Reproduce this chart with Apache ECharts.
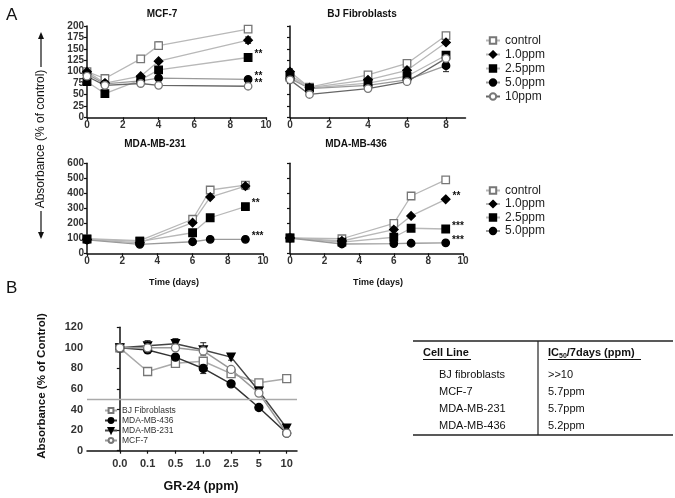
<!DOCTYPE html>
<html><head><meta charset="utf-8">
<script src="https://cdn.jsdelivr.net/npm/echarts@6/dist/echarts.min.js"></script>
<style>html,body{margin:0;padding:0;background:#fff}#c{width:675px;height:498px}</style>
</head><body><div id="c"></div>
<script>
// ---------- DATA ----------
const seriesNames = ['control', '1.0ppm', '2.5ppm', '5.0ppm', '10ppm'];
const panelTitles = ['MCF-7', 'BJ Fibroblasts', 'MDA-MB-231', 'MDA-MB-436'];

const mcfDays = [0, 1, 3, 4, 9];
const mcfControl = [100, 85, 128, 157, 193];
const mcf1 = [100, 75, 90, 123, 169];
const mcf25 = [78, 52, 82, 104, 131];
const mcf5 = [95, 73, 80, 86, 83];
const mcf10 = [90, 70, 74, 70, 68];
const mcfSig = ['', '', '**', '**', '**'];
const mcfErr = [[4, 149, 165], [9, 162, 176], [9, 188, 198]];

const bjDays = [0, 1, 4, 6, 8];
const bjControl = [92, 66, 93, 118, 179];
const bj1 = [100, 65, 82, 103, 164];
const bj25 = [88, 64, 75, 90, 136];
const bj5 = [85, 63, 70, 82, 113];
const bj10 = [82, 50, 63, 78, 129];
const bjErr = [[8, 100, 126], [0, 78, 106]];

const mdaDays = [0, 3, 6, 7, 9];
const m231Control = [97, 85, 227, 422, 455];
const m231_1 = [92, 70, 204, 375, 448];
const m231_25 = [95, 80, 137, 237, 311];
const m231_5 = [90, 60, 77, 93, 93];
const m231Sig = ['', '', '**', '***'];
const m231Err = [[9, 435, 475], [9, 425, 470], [7, 400, 440]];

const m436Control = [102, 97, 200, 382, 490];
const m436_1 = [102, 82, 158, 249, 360];
const m436_25 = [102, 75, 107, 167, 162];
const m436_5 = [102, 62, 65, 67, 70];
const m436Sig = ['', '**', '***', '***'];

const yTicksTop = [0, 200, 25];
const yTicksBottom = [0, 600, 100];

const doses = ['0.0', '0.1', '0.5', '1.0', '2.5', '5', '10'];
const bNames = ['BJ Fibroblasts', 'MDA-MB-436', 'MDA-MB-231', 'MCF-7'];
const bBJ = [100, 77, 85, 87, 75, 66, 70];
const b436 = [100, 98, 91, 80, 65, 42, 17];
const b231 = [100, 102, 104, 98, 91, 58, 22];
const bMCF = [100, 100, 100, 97, 79, 56, 17];
const bErr = [[0, 97, 104], [1, 95, 107], [2, 98, 109], [3, 93, 105], [3, 75, 85], [4, 88, 94], [0, 96, 103]];
const ic50Threshold = 50;

const cellLines = ['BJ fibroblasts', 'MCF-7', 'MDA-MB-231', 'MDA-MB-436'];
const ic50Values = ['>>10', '5.7ppm', '5.7ppm', '5.2ppm'];

// ---------- STYLE ----------
const FONT = '"Liberation Sans", Arial, sans-serif';
const sty = {
  'control': { symbol: 'rect', size: 7.5, fill: '#fff', border: '#777', line: '#b8b8b8' },
  '1.0ppm': { symbol: 'diamond', size: 8.5, fill: '#000', border: '#000', line: '#b8b8b8' },
  '2.5ppm': { symbol: 'rect', size: 7.5, fill: '#000', border: '#000', line: '#b8b8b8' },
  '5.0ppm': { symbol: 'circle', size: 7.5, fill: '#000', border: '#000', line: '#9a9a9a' },
  '10ppm': { symbol: 'circle', size: 7.5, fill: '#fff', border: '#777', line: '#666' }
};

function mkSeries(name, days, vals, idx, sig) {
  const s = sty[name];
  return {
    type: 'line', name: name, xAxisIndex: idx, yAxisIndex: idx,
    symbol: s.symbol, symbolSize: s.size, showSymbol: true,
    itemStyle: { color: s.fill, borderColor: s.border, borderWidth: 1.3, opacity: 1 },
    lineStyle: { color: s.line, width: 1.3 },
    animation: false, z: 3,
    data: days.map((d, i) => {
      const o = { value: [d, vals[i]] };
      if (i === days.length - 1 && sig) {
        o.label = { show: true, formatter: sig, position: 'right', distance: 2,
          fontSize: 10, fontWeight: 'bold', color: '#111', fontFamily: FONT, offset: [0, -3] };
      }
      return o;
    })
  };
}

function errRender(params, api) {
  const x = api.value(0), lo = api.value(1), hi = api.value(2);
  const p1 = api.coord([x, lo]), p2 = api.coord([x, hi]);
  const w = 3, st = { stroke: '#222', lineWidth: 1 };
  return { type: 'group', children: [
    { type: 'line', shape: { x1: p1[0], y1: p1[1], x2: p2[0], y2: p2[1] }, style: st },
    { type: 'line', shape: { x1: p1[0] - w, y1: p1[1], x2: p1[0] + w, y2: p1[1] }, style: st },
    { type: 'line', shape: { x1: p2[0] - w, y1: p2[1], x2: p2[0] + w, y2: p2[1] }, style: st }
  ] };
}
function errSeries(data, idx) {
  return { type: 'custom', xAxisIndex: idx, yAxisIndex: idx, renderItem: errRender,
    data: data, encode: { x: 0, y: [1, 2] }, z: 2, silent: true, animation: false };
}

const axisLine = { show: true, lineStyle: { color: '#111', width: 1.5 } };
const axisTick = { show: true, length: 3, lineStyle: { color: '#111', width: 1.2 } };
const lab = { fontSize: 10, fontWeight: 'bold', color: '#333', fontFamily: FONT, margin: 3 };

function xA(idx, max, showLab, custom) {
  const a = { type: 'value', gridIndex: idx, min: 0, max: max, interval: 2,
    axisLine: axisLine, axisTick: Object.assign({}, axisTick), splitLine: { show: false },
    axisLabel: Object.assign({ show: showLab }, lab) };
  if (custom) { a.axisLabel.customValues = custom; a.axisTick.customValues = custom; }
  return a;
}
function yA(idx, ticks, showLab) {
  return { type: 'value', gridIndex: idx, min: ticks[0], max: ticks[1], interval: ticks[2],
    axisLine: axisLine, axisTick: axisTick, splitLine: { show: false },
    axisLabel: Object.assign({ show: showLab }, lab) };
}

const series = [];
const allA = [
  [mcfDays, [mcfControl, mcf1, mcf25, mcf5, mcf10], mcfSig, 0],
  [bjDays, [bjControl, bj1, bj25, bj5, bj10], null, 1],
  [mdaDays, [m231Control, m231_1, m231_25, m231_5], m231Sig, 2],
  [mdaDays, [m436Control, m436_1, m436_25, m436_5], m436Sig, 3]
];
allA.forEach(([days, sets, sig, idx]) => {
  sets.forEach((vals, k) => series.push(mkSeries(seriesNames[k], days, vals, idx, sig ? sig[k] : '')));
});
series.push(errSeries(mcfErr, 0), errSeries(bjErr, 1), errSeries(m231Err, 2));

// Panel B
const bSty = [
  { symbol: 'rect', size: 8, fill: '#fff', border: '#777', line: '#aaa', rot: 0 },
  { symbol: 'circle', size: 8, fill: '#000', border: '#000', line: '#333', rot: 0 },
  { symbol: 'triangle', size: 8, fill: '#000', border: '#000', line: '#444', rot: 180 },
  { symbol: 'circle', size: 8, fill: '#fff', border: '#777', line: '#999', rot: 0 }
];
[bBJ, b436, b231, bMCF].forEach((vals, k) => {
  const s = bSty[k];
  const o = { type: 'line', name: bNames[k], xAxisIndex: 4, yAxisIndex: 4,
    symbol: s.symbol, symbolSize: s.size, symbolRotate: s.rot, animation: false, z: 3 + (k === 0 ? 0 : 1),
    itemStyle: { color: s.fill, borderColor: s.border, borderWidth: 1.3 },
    lineStyle: { color: s.line, width: 1.5 },
    data: vals.map((v, i) => [i, v]) };
  if (k === 0) {
    o.markLine = { silent: true, symbol: 'none', label: { show: false }, animation: false,
      lineStyle: { color: '#aaa', type: 'solid', width: 1.3 }, data: [{ yAxis: ic50Threshold }] };
  }
  series.push(o);
});
series.push(errSeries(bErr, 4));

const grids = [
  { left: 87, top: 26, width: 179, height: 91.3 },
  { left: 290, top: 26, width: 175.5, height: 91.3 },
  { left: 87, top: 163.3, width: 176, height: 90 },
  { left: 290, top: 163.3, width: 173, height: 90 },
  { left: 87, top: 327.3, width: 210, height: 123.4 }
];

const xAxes = [xA(0, 10, true), xA(1, 9, true, [0, 2, 4, 6, 8]), xA(2, 10, true), xA(3, 10, true),
  { type: 'value', gridIndex: 4, min: -1.18, max: 6.37, axisLine: axisLine,
    axisTick: Object.assign({ customValues: [0, 1, 2, 3, 4, 5, 6] }, axisTick), splitLine: { show: false },
    axisLabel: Object.assign({}, lab, { fontSize: 11, margin: 8, customValues: [0, 1, 2, 3, 4, 5, 6], formatter: v => doses[Math.round(v)] }) }];
const yAxes = [yA(0, yTicksTop, true), yA(1, yTicksTop, false), yA(2, yTicksBottom, true), yA(3, yTicksBottom, false),
  Object.assign(yA(4, [0, 120, 20], true), { axisLabel: Object.assign({}, lab, { fontSize: 11, margin: 4 }) })];

const legText = { fontSize: 12, color: '#222', fontFamily: FONT, lineHeight: 13 };

// graphic
const g = [];
function txt(x, y, text, o) {
  g.push({ type: 'text', x: x, y: y, silent: true,
    style: Object.assign({ text: text, fontFamily: FONT, fontSize: 11, fill: '#111', textAlign: 'left', textVerticalAlign: 'middle' }, o || {}) });
}
function ln(x1, y1, x2, y2, w, c) {
  g.push({ type: 'line', silent: true, shape: { x1, y1, x2, y2 }, style: { stroke: c || '#111', lineWidth: w || 1 } });
}
txt(6, 15, 'A', { fontSize: 17 });
txt(6, 288, 'B', { fontSize: 17 });
txt(162, 14, panelTitles[0], { fontWeight: 'bold', fontSize: 10, textAlign: 'center' });
txt(362, 14, panelTitles[1], { fontWeight: 'bold', fontSize: 10, textAlign: 'center' });
txt(155, 144, panelTitles[2], { fontWeight: 'bold', fontSize: 10, textAlign: 'center' });
txt(356, 144, panelTitles[3], { fontWeight: 'bold', fontSize: 10, textAlign: 'center' });
txt(174, 283, 'Time (days)', { fontWeight: 'bold', fontSize: 9, textAlign: 'center' });
txt(378, 283, 'Time (days)', { fontWeight: 'bold', fontSize: 9, textAlign: 'center' });
// A y label with arrows
g.push({ type: 'text', x: 41, y: 139, rotation: Math.PI / 2, silent: true,
  style: { text: 'Absorbance (% of control)', fontFamily: FONT, fontSize: 12, fill: '#111', textAlign: 'center', textVerticalAlign: 'middle' } });
ln(41, 36, 41, 67, 1.2);
g.push({ type: 'polygon', silent: true, shape: { points: [[41, 32], [38, 39], [44, 39]] }, style: { fill: '#111' } });
ln(41, 211, 41, 234, 1.2);
g.push({ type: 'polygon', silent: true, shape: { points: [[41, 239], [38, 232], [44, 232]] }, style: { fill: '#111' } });
// B axis titles
g.push({ type: 'text', x: 42, y: 386, rotation: Math.PI / 2, silent: true,
  style: { text: 'Absorbance (% of Control)', fontFamily: FONT, fontSize: 11.5, fontWeight: 'bold', fill: '#111', textAlign: 'center', textVerticalAlign: 'middle' } });
txt(201, 487, 'GR-24 (ppm)', { fontWeight: 'bold', fontSize: 12.5, textAlign: 'center' });
// Table
ln(413, 341, 673, 341, 1.5, '#222');
ln(413, 435, 673, 435, 1.5, '#222');
ln(538, 341, 538, 435, 1.2, '#222');
txt(423, 353, 'Cell Line', { fontWeight: 'bold' });
ln(423, 359.5, 471, 359.5, 1, '#111');
g.push({ type: 'text', x: 548, y: 353, silent: true, style: {
  text: '{a|IC}{s|50}{a|/7days (ppm)}', fontFamily: FONT, textVerticalAlign: 'middle', fill: '#111',
  rich: { a: { fontSize: 11, fontWeight: 'bold', fontFamily: FONT }, s: { fontSize: 7, fontWeight: 'bold', fontFamily: FONT, padding: [6, 0, 0, 0] } } } });
ln(548, 359.5, 641, 359.5, 1, '#111');
cellLines.forEach((c, i) => {
  txt(439, 375 + i * 17, c);
  txt(548, 375 + i * 17, ic50Values[i]);
});

const option = {
  backgroundColor: '#fff',
  animation: false,
  grid: grids,
  xAxis: xAxes,
  yAxis: yAxes,
  legend: [
    { data: seriesNames, orient: 'vertical', left: 485, top: 34, itemWidth: 14, itemHeight: 8, itemGap: 1, selectedMode: false, textStyle: legText, padding: 0 },
    { data: seriesNames.slice(0, 4), orient: 'vertical', left: 485, top: 184, itemWidth: 14, itemHeight: 8, itemGap: 0.5, selectedMode: false, textStyle: legText, padding: 0 },
    { data: bNames, orient: 'vertical', left: 104, top: 406, itemWidth: 12, itemHeight: 6, itemGap: 1, selectedMode: false, padding: 0,
      textStyle: { fontSize: 8.5, color: '#333', fontFamily: FONT, lineHeight: 8 } }
  ],
  graphic: g,
  series: series
};
const chart = echarts.init(document.getElementById('c'), null, { renderer: 'canvas' });
chart.setOption(option);
</script></body></html>
